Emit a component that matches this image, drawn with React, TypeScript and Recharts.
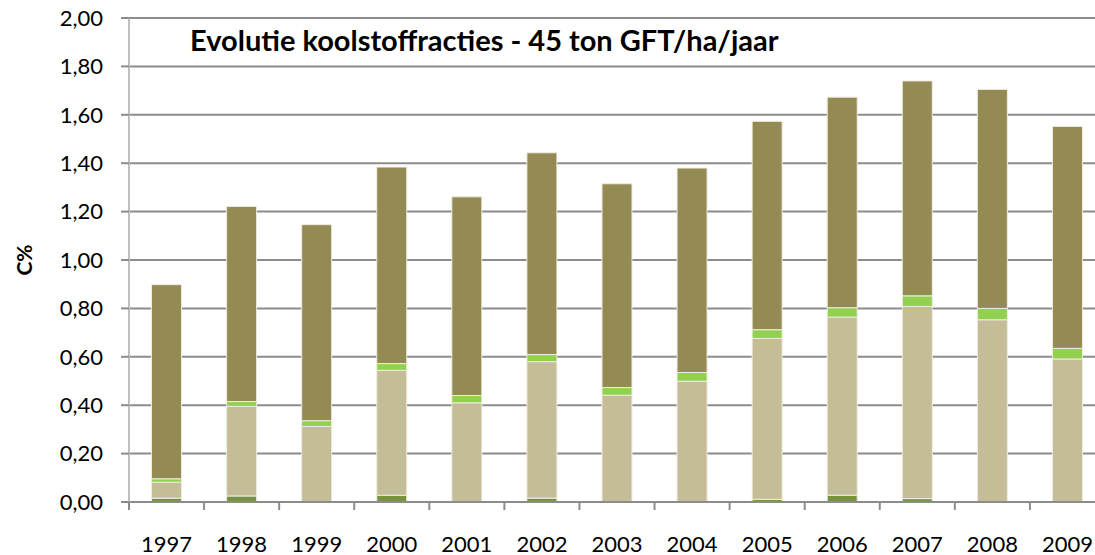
import React from 'react';
import { BarChart, Bar, XAxis, YAxis, CartesianGrid } from 'recharts';

const years = ['1997','1998','1999','2000','2001','2002','2003','2004','2005','2006','2007','2008','2009'];
const darkGreen = [0.016,0.025,0,0.028,0,0.016,0,0,0.011,0.028,0.014,0,0];
const tan = [0.066,0.37,0.312,0.516,0.41,0.564,0.441,0.499,0.665,0.736,0.794,0.753,0.591];
const lightGreen = [0.014,0.02,0.024,0.028,0.03,0.029,0.032,0.036,0.036,0.039,0.044,0.047,0.044];
const olive = [0.802,0.806,0.81,0.812,0.821,0.834,0.842,0.845,0.861,0.87,0.888,0.905,0.917];
const yTicks = [0,0.2,0.4,0.6,0.8,1.0,1.2,1.4,1.6,1.8,2.0];

const data = years.map((y, i) => ({
  year: y,
  dg: darkGreen[i],
  tan: tan[i],
  lg: lightGreen[i],
  olive: olive[i],
}));

const CHART_W = 1105;
const CHART_H = 555;
const Y_W = 129;
const FONT = 'Lato, "Liberation Sans", sans-serif';
const STEP = (CHART_W - Y_W) / years.length;

const XTick = (props: any) => {
  const { x, y, payload, index } = props;
  return (
    <g>
      <line x1={x - STEP / 2} x2={x - STEP / 2} y1={y} y2={y + 8} stroke="#8C8C8C" strokeWidth={2} />
      {index === years.length - 1 && (
        <line x1={x + STEP / 2} x2={x + STEP / 2} y1={y} y2={y + 8} stroke="#8C8C8C" strokeWidth={2} />
      )}
      <text x={x} y={y + 41} textAnchor="middle" dominantBaseline="central" fontFamily={FONT} fontSize={22} fill="#000">
        {payload.value}
      </text>
    </g>
  );
};

export default function App() {
  return (
    <div style={{ position: 'absolute', left: 0, top: 0, width: 1095, height: 555, overflow: 'hidden', background: '#fff' }}>
      <BarChart
        width={CHART_W}
        height={CHART_H}
        data={data}
        margin={{ top: 18, right: 0, left: 0, bottom: 0 }}
        barCategoryGap="30%"
      >
        <CartesianGrid vertical={false} stroke="#8C8C8C" strokeWidth={2} />
        <XAxis
          dataKey="year"
          height={53}
          tickSize={0}
          tickMargin={0}
          tick={<XTick />}
          axisLine={{ stroke: '#8C8C8C', strokeWidth: 2 }}
          tickLine={false}
          interval={0}
        />
        <YAxis
          width={Y_W}
          domain={[0, 2]}
          ticks={yTicks}
          interval={0}
          tickFormatter={(v: number) => v.toFixed(2).replace('.', ',')}
          tick={{ fontFamily: FONT, fontSize: 22, fill: '#000' }}
          tickSize={8}
          tickMargin={18}
          tickLine={{ stroke: '#8C8C8C', strokeWidth: 2 }}
          axisLine={{ stroke: '#BFBFBF', strokeWidth: 2 }}
          label={(p: any) => {
            const vb = p.viewBox || {};
            return (
              <text
                x={23}
                y={vb.y + vb.height / 2}
                transform={`rotate(-90, 23, ${vb.y + vb.height / 2})`}
                textAnchor="middle"
                dominantBaseline="central"
                fontFamily={FONT}
                fontWeight="bold"
                fontSize={21}
                fill="#000"
              >
                C%
              </text>
            );
          }}
        />
        <Bar dataKey="dg" stackId="a" fill="#77933C" stroke="#EEECE1" strokeWidth={1} isAnimationActive={false} />
        <Bar dataKey="tan" stackId="a" fill="#C4BD97" stroke="#EEECE1" strokeWidth={1} isAnimationActive={false} />
        <Bar dataKey="lg" stackId="a" fill="#92D050" stroke="#EEECE1" strokeWidth={1} isAnimationActive={false} />
        <Bar dataKey="olive" stackId="a" fill="#948A54" stroke="#EEECE1" strokeWidth={1} isAnimationActive={false} />
      </BarChart>
      <div
        style={{
          position: 'absolute',
          left: 190,
          top: 21,
          fontFamily: FONT,
          fontWeight: 'bold',
          fontSize: 29,
          lineHeight: '38px',
          color: '#000',
          whiteSpace: 'nowrap',
        }}
      >
        Evolutie koolstoffracties - 45 ton GFT/ha/jaar
      </div>
    </div>
  );
}
